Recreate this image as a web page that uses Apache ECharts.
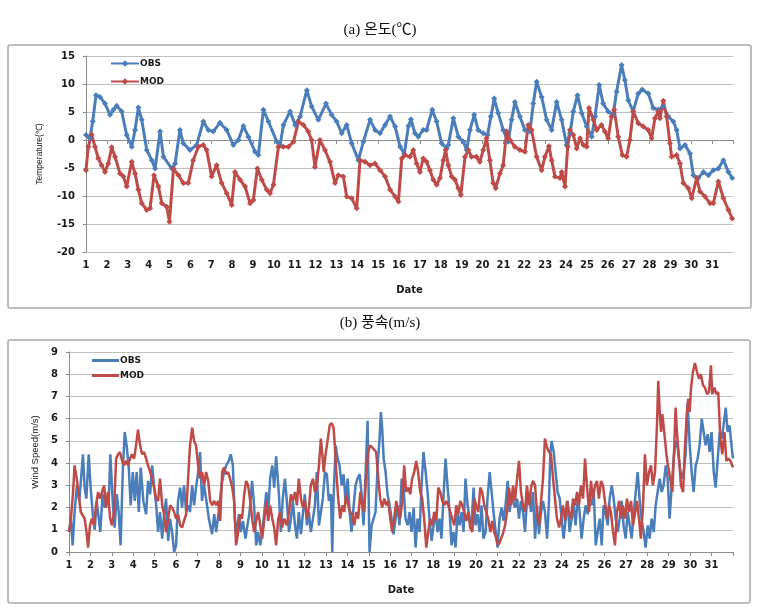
<!DOCTYPE html>
<html><head><meta charset="utf-8">
<script src="https://cdn.jsdelivr.net/npm/echarts@6/dist/echarts.min.js"></script>
<style>html,body{margin:0;padding:0;background:#fff}#c{width:760px;height:608px}</style>
</head><body><div id="c"></div>
<script>
// day index (0 = day 1, 00h) , value
const dayLabels = ['1','2','3','4','5','6','7','8','9','10','11','12','13','14','15','16','17','18','19','20','21','22','23','24','25','26','27','28','29','30','31'];
const tempTicks = [-20,-15,-10,-5,0,5,10,15];
const windTicks = [0,1,2,3,4,5,6,7,8,9];

const tempObs = [[0,0.9],[0.19,0.3],[0.32,3.3],[0.48,8.0],[0.67,7.7],[0.91,6.5],[1.15,4.5],[1.31,5.4],[1.47,6.1],[1.71,5.1],[1.95,0.9],[2.19,-1.2],[2.35,1.8],[2.51,5.8],[2.67,3.6],[2.91,-1.8],[3.15,-3.6],[3.31,-5.1],[3.55,1.5],[3.71,-3.0],[4.11,-5.1],[4.27,-4.2],[4.50,1.8],[4.66,-0.6],[4.98,-1.8],[5.30,-0.9],[5.62,3.3],[5.86,1.8],[6.10,1.5],[6.42,3.1],[6.74,1.8],[7.06,-0.9],[7.30,0],[7.54,2.5],[7.78,0.6],[8.10,-2.1],[8.26,-2.7],[8.50,5.4],[8.74,3.3],[9.14,-0.3],[9.30,-0.9],[9.46,2.7],[9.78,5.1],[10.02,2.7],[10.26,4.2],[10.58,8.9],[10.81,6.0],[11.13,3.6],[11.50,6.5],[11.77,4.5],[12.01,3.3],[12.25,1.2],[12.49,2.7],[12.73,-0.6],[13.05,-3.6],[13.29,-0.3],[13.61,3.6],[13.85,1.8],[14.09,1.2],[14.33,2.7],[14.57,4.2],[14.81,2.4],[15.05,-1.2],[15.25,-2.5],[15.45,2.5],[15.57,3.7],[15.76,1.2],[15.92,0.6],[16.16,1.8],[16.32,1.8],[16.59,5.4],[16.80,3.3],[17.04,-0.6],[17.28,-1.5],[17.36,-0.9],[17.60,3.9],[17.84,0.6],[18.08,-0.3],[18.24,-1.8],[18.40,1.8],[18.60,4.5],[18.79,1.8],[19.03,1.2],[19.24,0.9],[19.40,4.2],[19.56,7.4],[19.75,4.8],[19.99,1.8],[20.23,-0.3],[20.39,3.6],[20.55,6.8],[20.79,4.2],[21.03,1.8],[21.27,1.5],[21.43,6.5],[21.59,10.4],[21.83,7.7],[22.07,3.6],[22.31,1.8],[22.55,6.8],[22.79,3.6],[23.03,-0.9],[23.19,1.2],[23.35,5.1],[23.55,8.0],[23.75,4.8],[23.99,2.4],[24.23,0.6],[24.39,4.2],[24.59,9.8],[24.78,6.5],[25.02,5.1],[25.26,4.5],[25.42,8.6],[25.66,13.4],[25.82,10.7],[25.98,7.1],[26.22,5.1],[26.46,8.3],[26.65,9.0],[26.94,8.3],[27.18,5.7],[27.42,5.4],[27.66,6.0],[27.90,4.2],[28.14,3.3],[28.30,1.8],[28.46,-1.5],[28.70,-0.9],[28.94,-2.4],[29.10,-6.3],[29.34,-6.8],[29.58,-5.7],[29.82,-6.3],[30.06,-5.4],[30.30,-5.1],[30.54,-3.6],[30.78,-5.7],[30.96,-6.8]];

const tempMod = [[0,-5.4],[0.11,-1.2],[0.27,1.0],[0.43,-1.2],[0.59,-3.3],[0.75,-4.5],[0.91,-5.7],[1.07,-4.2],[1.23,-1.3],[1.39,-3.0],[1.63,-6.0],[1.79,-6.5],[1.95,-8.3],[2.19,-3.9],[2.35,-6.0],[2.51,-8.9],[2.67,-11.3],[2.91,-12.5],[3.07,-12.2],[3.26,-6.3],[3.47,-8.3],[3.63,-11.3],[3.87,-11.9],[4.00,-14.6],[4.19,-5.1],[4.43,-6.3],[4.66,-7.7],[4.90,-7.7],[5.14,-3.6],[5.38,-1.2],[5.62,-0.9],[5.78,-1.8],[6.02,-6.5],[6.26,-4.5],[6.50,-7.7],[6.74,-9.5],[6.98,-11.6],[7.14,-5.7],[7.38,-7.1],[7.62,-8.3],[7.86,-11.3],[8.02,-10.7],[8.21,-5.1],[8.42,-7.1],[8.66,-8.9],[8.82,-9.5],[8.98,-8.0],[9.22,-1.2],[9.46,-1.2],[9.70,-1.2],[9.94,-0.3],[10.18,3.3],[10.42,2.7],[10.65,1.5],[10.81,0],[10.97,-4.8],[11.21,0],[11.45,-1.8],[11.69,-3.9],[11.93,-7.7],[12.09,-6.3],[12.33,-6.5],[12.49,-10.1],[12.73,-10.4],[12.97,-12.2],[13.13,-3.6],[13.37,-3.9],[13.61,-4.5],[13.85,-4.2],[14.09,-5.4],[14.33,-6.5],[14.57,-8.9],[14.81,-10.1],[14.97,-11.0],[15.13,-3.3],[15.28,-2.7],[15.52,-3.0],[15.68,-1.8],[15.84,-4.2],[16.0,-5.7],[16.16,-3.3],[16.32,-3.9],[16.48,-5.4],[16.64,-7.1],[16.80,-8.0],[16.96,-6.8],[17.12,-3.6],[17.23,-1.8],[17.36,-4.5],[17.52,-6.5],[17.68,-7.1],[17.84,-8.6],[17.96,-9.8],[18.16,-3.0],[18.32,-1.8],[18.47,-3.0],[18.71,-3.0],[18.87,-3.9],[19.03,-1.8],[19.19,0.3],[19.35,-3.6],[19.51,-7.7],[19.63,-8.6],[19.83,-6.0],[19.99,-4.5],[20.15,1.5],[20.31,0],[20.55,-1.2],[20.79,-1.8],[21.03,-2.1],[21.19,2.7],[21.35,1.8],[21.59,-3.0],[21.83,-5.4],[21.99,-3.0],[22.18,-1.1],[22.31,-3.6],[22.47,-6.5],[22.71,-6.8],[22.79,-5.7],[22.95,-8.3],[23.08,-1.2],[23.19,1.8],[23.35,0.9],[23.51,-1.5],[23.67,0.3],[23.83,-0.9],[23.99,-1.2],[24.10,5.7],[24.31,3.6],[24.47,1.8],[24.70,2.7],[24.86,1.5],[25.02,0.3],[25.18,4.2],[25.31,5.4],[25.50,0.6],[25.70,-2.7],[25.90,-3.0],[26.06,0],[26.22,5.1],[26.46,3.0],[26.70,2.4],[26.94,1.8],[27.10,0.3],[27.26,3.9],[27.42,5.1],[27.50,3.9],[27.66,7.0],[27.82,4.2],[27.98,-0.6],[28.06,-3.0],[28.30,-2.7],[28.46,-4.2],[28.62,-7.7],[28.86,-8.6],[29.02,-10.4],[29.26,-6.8],[29.42,-9.2],[29.66,-10.1],[29.90,-11.3],[30.06,-11.3],[30.30,-7.4],[30.54,-10.4],[30.78,-12.5],[30.96,-14.0]];

const windObs = [[0,0.9],[0.09,1.5],[0.17,0.3],[0.26,1.8],[0.37,3.0],[0.48,2.3],[0.58,3.5],[0.65,4.4],[0.73,2.9],[0.81,2.4],[0.92,4.4],[1.01,2.9],[1.11,1.7],[1.20,1.0],[1.29,2.3],[1.39,1.5],[1.46,0.9],[1.57,2.6],[1.67,2.0],[1.78,2.4],[1.85,2.1],[1.93,4.4],[2.04,2.3],[2.13,1.1],[2.23,2.6],[2.32,1.8],[2.41,0.3],[2.51,3.6],[2.60,5.4],[2.69,4.8],[2.79,3.8],[2.88,2.1],[2.98,3.6],[3.07,2.3],[3.16,3.6],[3.26,1.8],[3.35,3.8],[3.47,2.3],[3.60,1.7],[3.69,3.2],[3.79,2.6],[3.88,3.9],[3.97,3.0],[4.07,2.1],[4.16,0.9],[4.25,1.8],[4.35,0.6],[4.44,1.7],[4.53,2.4],[4.63,0.5],[4.72,1.5],[4.81,0.9],[4.91,0],[5.00,0.3],[5.09,2.3],[5.19,2.9],[5.28,2.0],[5.37,3.0],[5.47,1.8],[5.56,2.1],[5.65,1.8],[5.75,3.0],[5.84,2.1],[5.93,2.9],[6.03,3.6],[6.12,4.5],[6.21,2.3],[6.31,3.0],[6.40,2.4],[6.53,1.5],[6.68,0.8],[6.78,1.7],[6.87,0.9],[6.99,1.8],[7.12,3.0],[7.24,3.6],[7.34,3.9],[7.46,4.1],[7.55,4.4],[7.65,3.9],[7.74,1.5],[7.83,0.8],[7.93,1.7],[8.02,0.9],[8.12,1.4],[8.24,0.6],[8.33,1.2],[8.43,1.8],[8.55,3.2],[8.64,2.1],[8.74,0.3],[8.83,0.9],[8.93,0.3],[9.02,0.9],[9.11,1.7],[9.21,2.7],[9.30,1.8],[9.39,3.3],[9.49,3.9],[9.58,2.9],[9.67,4.3],[9.80,2.6],[9.89,0.9],[9.98,2.4],[10.08,3.3],[10.17,2.3],[10.27,0.9],[10.36,1.5],[10.45,2.3],[10.55,1.2],[10.64,0.6],[10.73,1.8],[10.83,0.8],[10.92,1.7],[11.01,2.6],[11.11,1.2],[11.20,1.8],[11.29,0.9],[11.39,1.5],[11.48,2.1],[11.57,3.6],[11.67,1.2],[11.76,1.8],[11.85,2.4],[11.95,3.6],[12.04,3.5],[12.13,2.3],[12.23,2.6],[12.29,0],[12.35,2.4],[12.45,4.8],[12.54,4.2],[12.63,3.9],[12.73,3.0],[12.82,3.5],[12.91,2.3],[13.01,3.3],[13.10,1.8],[13.19,0.9],[13.29,2.1],[13.38,3.0],[13.47,3.3],[13.57,3.5],[13.66,2.6],[13.75,1.2],[13.85,3.6],[13.94,5.9],[14.03,0],[14.13,1.2],[14.22,1.5],[14.31,1.8],[14.41,3.9],[14.50,5.1],[14.56,6.3],[14.62,5.6],[14.69,4.2],[14.78,3.6],[14.87,2.6],[14.97,2.1],[15.06,1.5],[15.15,0.8],[15.25,1.5],[15.34,2.1],[15.43,1.2],[15.53,3.3],[15.62,2.9],[15.71,1.5],[15.81,1.2],[15.90,1.8],[15.99,0.9],[16.09,2.0],[16.18,0.2],[16.27,1.5],[16.37,0.9],[16.46,3.0],[16.55,4.5],[16.65,3.6],[16.74,2.7],[16.83,1.5],[16.93,0.5],[17.02,1.2],[17.11,1.8],[17.21,0.9],[17.30,1.5],[17.39,0.6],[17.49,2.6],[17.58,4.2],[17.67,3.0],[17.77,1.8],[17.86,0.3],[17.95,0.9],[18.05,0.2],[18.14,1.8],[18.23,1.2],[18.33,1.8],[18.42,0.9],[18.51,3.3],[18.61,2.1],[18.70,1.5],[18.79,1.2],[18.89,2.9],[18.98,1.2],[19.07,1.7],[19.17,0.9],[19.26,2.1],[19.35,0.6],[19.45,0.9],[19.54,2.4],[19.64,3.6],[19.73,2.7],[19.82,1.8],[19.92,0.9],[20.01,0.2],[20.10,1.5],[20.20,2.0],[20.29,1.4],[20.38,2.1],[20.48,3.2],[20.57,1.8],[20.66,2.6],[20.73,2.3],[20.82,2.0],[20.92,2.4],[21.01,1.5],[21.10,2.3],[21.20,1.8],[21.29,0.9],[21.38,2.3],[21.48,2.6],[21.57,1.8],[21.66,2.7],[21.76,0.6],[21.85,2.1],[21.94,0.8],[22.04,1.8],[22.13,2.3],[22.22,1.8],[22.32,0.6],[22.41,2.3],[22.47,4.4],[22.53,5.0],[22.63,4.5],[22.72,3.6],[22.81,2.7],[22.91,2.4],[23.00,1.5],[23.09,0.6],[23.19,1.5],[23.28,2.3],[23.37,0.9],[23.47,1.5],[23.56,2.1],[23.65,1.2],[23.75,2.4],[23.84,1.8],[23.93,0.6],[24.03,1.5],[24.12,2.1],[24.22,1.7],[24.31,2.4],[24.40,2.1],[24.50,2.7],[24.59,0.3],[24.68,0.9],[24.78,1.5],[24.87,0.3],[24.96,2.1],[25.05,1.8],[25.15,1.2],[25.24,2.4],[25.34,3.0],[25.43,2.4],[25.52,1.5],[25.62,0.9],[25.71,1.5],[25.80,2.3],[25.89,1.2],[25.99,0.6],[26.08,1.8],[26.18,1.2],[26.27,0.6],[26.36,1.7],[26.46,2.7],[26.55,3.6],[26.64,2.4],[26.74,1.4],[26.83,0.9],[26.92,0.2],[27.02,1.2],[27.11,0.6],[27.20,1.5],[27.30,0.9],[27.39,2.1],[27.48,2.7],[27.58,3.3],[27.67,2.7],[27.76,3.0],[27.86,3.9],[27.95,3.3],[28.04,1.5],[28.14,3.0],[28.23,4.2],[28.32,5.0],[28.42,4.7],[28.51,3.9],[28.60,3.3],[28.70,3.6],[28.79,4.4],[28.88,6.7],[28.98,4.8],[29.07,3.6],[29.16,2.7],[29.26,3.9],[29.35,4.2],[29.44,4.8],[29.54,6.0],[29.63,5.4],[29.72,4.8],[29.82,5.3],[29.91,4.5],[30.00,5.4],[30.10,3.6],[30.19,2.9],[30.28,4.1],[30.38,5.4],[30.47,5.1],[30.56,5.7],[30.66,6.5],[30.75,5.4],[30.84,5.7],[30.94,4.7],[31.0,4.2]];

const windMod = [[0,0.9],[0.09,1.5],[0.19,2.7],[0.26,3.9],[0.36,3.3],[0.45,2.6],[0.55,1.8],[0.64,1.8],[0.73,1.5],[0.83,0.8],[0.89,0.2],[0.98,1.2],[1.07,1.5],[1.17,1.2],[1.26,2.1],[1.36,2.7],[1.45,2.4],[1.54,2.7],[1.64,3.0],[1.73,2.0],[1.82,2.7],[1.92,1.5],[2.01,1.2],[2.10,1.8],[2.20,4.2],[2.29,4.4],[2.38,4.5],[2.48,4.1],[2.57,3.9],[2.66,4.1],[2.76,3.9],[2.85,4.2],[2.94,4.4],[3.04,4.2],[3.13,4.8],[3.22,5.5],[3.32,4.8],[3.41,4.4],[3.50,4.5],[3.60,4.2],[3.69,3.9],[3.79,3.6],[3.88,3.3],[3.97,2.9],[4.07,2.4],[4.16,2.3],[4.25,3.3],[4.35,2.1],[4.44,1.7],[4.53,0.9],[4.63,1.5],[4.72,2.1],[4.81,2.0],[4.91,1.8],[5.00,1.5],[5.09,1.7],[5.19,1.2],[5.28,1.1],[5.37,1.4],[5.47,1.7],[5.56,3.3],[5.65,4.8],[5.75,5.6],[5.84,5.0],[5.93,4.8],[6.03,3.9],[6.12,3.3],[6.21,3.6],[6.31,3.0],[6.40,3.6],[6.50,3.2],[6.59,2.3],[6.68,2.1],[6.78,2.3],[6.87,2.1],[6.96,2.3],[7.06,1.4],[7.15,3.6],[7.24,3.8],[7.34,3.5],[7.43,3.6],[7.52,3.3],[7.62,2.9],[7.71,2.3],[7.80,0.3],[7.90,0.9],[7.99,1.7],[8.08,1.5],[8.18,2.6],[8.27,3.2],[8.36,3.0],[8.46,2.3],[8.55,1.5],[8.64,0.9],[8.74,1.4],[8.83,1.8],[8.93,1.2],[9.02,0.6],[9.11,1.4],[9.21,2.3],[9.30,1.4],[9.39,2.1],[9.49,1.5],[9.58,1.1],[9.67,0.3],[9.77,1.5],[9.86,1.8],[9.95,1.1],[10.05,1.5],[10.17,1.2],[10.27,1.8],[10.36,2.6],[10.45,2.3],[10.55,2.7],[10.64,2.1],[10.73,3.3],[10.83,2.4],[10.92,2.0],[11.01,2.3],[11.11,1.5],[11.20,2.0],[11.29,3.0],[11.39,3.3],[11.48,2.7],[11.57,2.9],[11.67,3.9],[11.76,5.1],[11.82,4.5],[11.89,3.6],[11.98,4.4],[12.07,5.0],[12.17,5.7],[12.26,5.8],[12.35,5.6],[12.41,4.8],[12.48,3.6],[12.57,2.4],[12.66,1.5],[12.76,2.1],[12.85,1.8],[12.94,2.6],[13.04,2.1],[13.13,1.8],[13.22,1.7],[13.32,1.2],[13.41,1.8],[13.50,1.5],[13.60,2.7],[13.69,2.1],[13.78,1.8],[13.88,3.6],[13.97,4.5],[14.06,4.8],[14.16,4.7],[14.25,4.7],[14.34,4.5],[14.44,3.3],[14.53,2.4],[14.62,2.0],[14.72,2.4],[14.81,2.1],[14.90,2.3],[15.00,1.5],[15.09,0.9],[15.18,1.5],[15.28,2.3],[15.37,1.8],[15.46,1.5],[15.56,2.3],[15.65,3.9],[15.74,2.7],[15.84,2.9],[15.93,2.6],[16.02,3.3],[16.12,3.6],[16.21,4.1],[16.30,3.6],[16.40,2.7],[16.49,2.4],[16.58,1.5],[16.68,0.2],[16.77,0.9],[16.86,1.5],[16.96,1.2],[17.05,1.8],[17.15,1.4],[17.24,2.9],[17.33,2.7],[17.43,2.3],[17.52,2.1],[17.61,2.3],[17.71,2.1],[17.80,1.8],[17.89,1.5],[17.99,1.2],[18.08,2.1],[18.17,1.7],[18.27,2.3],[18.36,2.1],[18.45,1.8],[18.55,1.4],[18.64,1.8],[18.73,1.1],[18.83,0.9],[18.92,2.4],[19.01,2.1],[19.11,1.8],[19.20,2.9],[19.29,2.7],[19.39,2.1],[19.48,1.8],[19.57,1.5],[19.67,0.9],[19.76,1.4],[19.85,0.9],[19.95,0.6],[20.04,0.3],[20.13,0.5],[20.25,0.8],[20.36,1.2],[20.45,1.8],[20.54,2.9],[20.64,2.1],[20.73,3.0],[20.82,2.3],[20.92,3.3],[21.01,4.1],[21.10,2.7],[21.20,2.1],[21.29,1.8],[21.38,3.0],[21.48,2.1],[21.57,2.9],[21.66,3.2],[21.76,3.0],[21.85,1.7],[21.94,1.2],[22.04,2.3],[22.13,3.3],[22.22,5.1],[22.32,4.7],[22.41,4.5],[22.50,4.4],[22.60,3.3],[22.69,2.4],[22.78,1.5],[22.88,1.1],[22.97,1.5],[23.06,2.1],[23.16,1.4],[23.25,2.3],[23.34,1.8],[23.44,1.5],[23.53,2.4],[23.62,2.1],[23.72,2.7],[23.81,2.1],[23.90,3.0],[24.00,2.4],[24.09,4.2],[24.18,3.0],[24.28,1.8],[24.37,3.2],[24.46,2.4],[24.56,3.0],[24.65,3.2],[24.74,2.4],[24.84,3.2],[24.93,3.0],[25.02,2.3],[25.12,1.5],[25.21,2.1],[25.30,1.8],[25.40,0.9],[25.49,0.3],[25.58,1.8],[25.68,2.3],[25.77,1.5],[25.86,2.1],[25.96,1.5],[26.05,2.4],[26.14,1.8],[26.24,2.3],[26.33,1.2],[26.42,1.7],[26.52,2.3],[26.61,1.5],[26.70,0.6],[26.80,2.1],[26.89,4.4],[26.98,3.0],[27.08,3.6],[27.17,3.9],[27.26,3.0],[27.36,3.6],[27.45,5.7],[27.51,7.7],[27.58,6.3],[27.64,5.4],[27.70,6.2],[27.79,5.4],[27.89,4.4],[27.98,3.8],[28.07,3.3],[28.17,2.7],[28.26,4.8],[28.32,6.5],[28.39,5.3],[28.48,4.2],[28.57,3.0],[28.67,2.7],[28.76,4.8],[28.85,6.3],[28.91,6.9],[28.98,6.3],[29.04,7.4],[29.13,8.1],[29.22,8.5],[29.32,8.1],[29.41,7.8],[29.50,8.0],[29.60,7.5],[29.69,7.4],[29.79,7.1],[29.88,7.2],[29.97,8.4],[30.03,7.1],[30.13,7.4],[30.22,7.1],[30.31,7.2],[30.41,5.1],[30.50,4.4],[30.60,5.4],[30.69,4.1],[30.78,4.2],[30.88,4.1],[31.0,3.8]];

const BLUE = '#4a7ebb', RED = '#be4b48', GRID = '#bfbfbf', AXIS = '#8c8c8c';
const lblFont = {fontFamily:'DejaVu Sans', fontWeight:'bold', fontSize:10, color:'#1a1a1a'};

function xAxisFor(gi){
  return {type:'value', gridIndex:gi, min:0, max:dayLabels.length, interval:1,
    axisLine:{show:true, lineStyle:{color:AXIS}}, axisTick:{show:true, length:4, lineStyle:{color:AXIS}},
    splitLine:{show:false},
    axisLabel:Object.assign({margin:8, formatter:v => (v < dayLabels.length ? dayLabels[v] : '')}, lblFont),
    name:'Date', nameLocation:'middle', nameGap:33,
    nameTextStyle:{fontFamily:'DejaVu Sans', fontWeight:'bold', fontSize:10, color:'#1a1a1a'}};
}

const chart = echarts.init(document.getElementById('c'));
chart.setOption({
  animation:false,
  backgroundColor:'#fff',
  graphic:[
    {type:'rect', shape:{x:8, y:45, width:743, height:263, r:2}, style:{fill:'none', stroke:'#a8a8a8', lineWidth:1.5}, z:-1},
    {type:'rect', shape:{x:8, y:340, width:742, height:263, r:2}, style:{fill:'none', stroke:'#a8a8a8', lineWidth:1.5}, z:-1},
    {type:'text', left:'center', top:23, style:{text:'(a) 온도(℃)', font:'15px "Liberation Serif", "Noto Sans CJK KR", serif', fill:'#111'}},
    {type:'text', left:'center', top:316, style:{text:'(b) 풍속(m/s)', font:'15px "Liberation Serif", "Noto Sans CJK KR", serif', fill:'#111'}}
  ],
  grid:[
    {left:86, top:56, width:647, height:196},
    {left:69, top:352, width:664, height:200}
  ],
  legend:[
    {data:['OBS','MOD'], orient:'vertical', left:105, top:54, itemWidth:28, itemHeight:8, itemGap:9,
     textStyle:{fontFamily:'DejaVu Sans', fontWeight:'bold', fontSize:9, color:'#1a1a1a', padding:[0,0,0,-4]}},
    {data:[{name:'OBS ', icon:'rect'},{name:'MOD ', icon:'rect'}], orient:'vertical', left:87, top:351, itemWidth:27, itemHeight:3, itemGap:6,
     textStyle:{fontFamily:'DejaVu Sans', fontWeight:'bold', fontSize:9, color:'#1a1a1a', padding:[0,0,0,-4]}}
  ],
  xAxis:[xAxisFor(0), xAxisFor(1)],
  yAxis:[
    {type:'value', gridIndex:0, min:tempTicks[0], max:tempTicks[tempTicks.length-1], interval:5,
     axisLine:{show:true, lineStyle:{color:AXIS}}, axisTick:{show:true, length:3, lineStyle:{color:AXIS}},
     splitLine:{show:true, lineStyle:{color:GRID, width:1}},
     axisLabel:Object.assign({margin:11}, lblFont),
     name:'Temperature(℃)', nameLocation:'middle', nameGap:42,
     nameTextStyle:{fontFamily:'Liberation Sans', fontSize:8.5, color:'#1a1a1a'}},
    {type:'value', gridIndex:1, min:windTicks[0], max:windTicks[windTicks.length-1], interval:1,
     axisLine:{show:true, lineStyle:{color:AXIS}}, axisTick:{show:true, length:3, lineStyle:{color:AXIS}},
     splitLine:{show:true, lineStyle:{color:GRID, width:1}},
     axisLabel:Object.assign({margin:11}, lblFont),
     name:'Wind Speed(m/s)', nameLocation:'middle', nameGap:28,
     nameTextStyle:{fontFamily:'Liberation Sans', fontSize:9.5, color:'#1a1a1a'}}
  ],
  series:[
    {name:'OBS', type:'line', xAxisIndex:0, yAxisIndex:0, data:tempObs, color:BLUE,
     lineStyle:{width:3, color:BLUE}, symbol:'diamond', symbolSize:6, showSymbol:true, itemStyle:{color:BLUE}},
    {name:'MOD', type:'line', xAxisIndex:0, yAxisIndex:0, data:tempMod, color:RED,
     lineStyle:{width:3, color:RED}, symbol:'diamond', symbolSize:6, showSymbol:true, itemStyle:{color:RED}},
    {name:'OBS ', type:'line', xAxisIndex:1, yAxisIndex:1, data:windObs, color:BLUE,
     lineStyle:{width:2.5, color:BLUE}, symbol:'none', itemStyle:{color:BLUE}},
    {name:'MOD ', type:'line', xAxisIndex:1, yAxisIndex:1, data:windMod, color:RED,
     lineStyle:{width:2.5, color:RED}, symbol:'none', itemStyle:{color:RED}}
  ]
});
</script></body></html>
